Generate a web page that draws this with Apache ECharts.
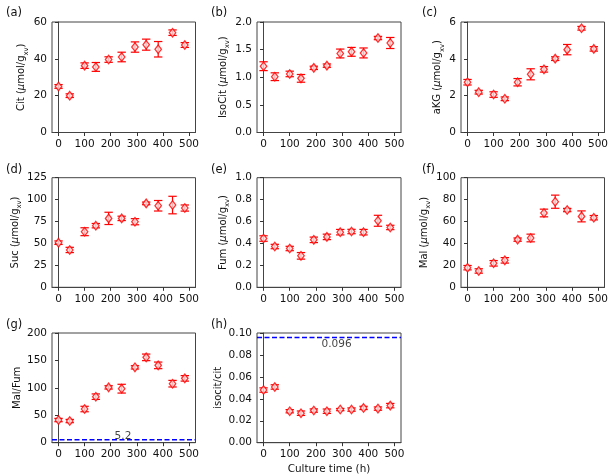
<!DOCTYPE html>
<html><head><meta charset="utf-8">
<script src="https://cdn.jsdelivr.net/npm/echarts@6/dist/echarts.min.js"></script>
<style>html,body{margin:0;padding:0;background:#fff}#c{width:611px;height:476px}</style>
</head><body><div id="c"></div>
<script>
const times = [0, 43, 100, 143, 192, 242, 293, 336, 382, 437, 484];
const xTicks = [0, 100, 200, 300, 400, 500];

const citMean = [25, 20, 36.3, 35.6, 39.6, 41, 46.4, 47.7, 45.2, 54.2, 47.5];
const citErr = [1, 1, 1.5, 2.4, 1.5, 2.6, 2.8, 3, 4.2, 1.5, 1.3];
const isoCitMean = [1.2, 1.01, 1.06, 0.98, 1.17, 1.21, 1.43, 1.46, 1.44, 1.71, 1.62];
const isoCitErr = [0.08, 0.07, 0.05, 0.07, 0.03, 0.03, 0.08, 0.08, 0.09, 0.03, 0.1];
const akgMean = [2.73, 2.19, 2.06, 1.83, 2.73, 3.16, 3.43, 4.01, 4.5, 5.66, 4.54];
const akgErr = [0.15, 0.1, 0.15, 0.1, 0.2, 0.3, 0.15, 0.1, 0.28, 0.1, 0.12];
const sucMean = [50.9, 42.6, 63.4, 70.3, 78.6, 78.6, 74.8, 95.7, 93, 93.8, 90.4];
const sucErr = [2, 3, 4.5, 2.5, 7, 2.5, 3.5, 1.5, 6, 10, 3.5];
const fumMean = [0.445, 0.372, 0.354, 0.287, 0.433, 0.46, 0.503, 0.509, 0.503, 0.607, 0.546];
const fumErr = [0.025, 0.02, 0.02, 0.03, 0.025, 0.025, 0.025, 0.02, 0.025, 0.05, 0.02];
const malMean = [17.9, 14.9, 21.9, 24.6, 43.5, 45, 67.8, 78.1, 70.5, 64.7, 63.5];
const malErr = [2, 2, 2.5, 2.5, 1.5, 3.5, 3.5, 6, 1.5, 5, 2];
const malFumMean = [41.3, 39.5, 61.4, 83.9, 100.9, 98.5, 137.4, 155.6, 141, 107.6, 117.3];
const malFumErr = [3, 3, 5, 5, 3, 8, 3, 6, 6, 6, 5];
const ratioMean = [0.048, 0.0508, 0.0287, 0.0269, 0.0293, 0.0287, 0.0302, 0.0302, 0.0317, 0.0311, 0.0338];
const ratioErr = [0.002, 0.002, 0.0015, 0.002, 0.0015, 0.002, 0.001, 0.0015, 0.0015, 0.0015, 0.002];

const malFumRef = 5.2;
const ratioRef = 0.096;

const unit = ' ({i|μ}mol/g{s|xv})';
const panels = [
  {tag:'(a)', name:'Cit' + unit, mean:citMean, err:citErr, max:60, step:20, dec:0, gap:23},
  {tag:'(b)', name:'IsoCit' + unit, mean:isoCitMean, err:isoCitErr, max:2, step:0.5, dec:1, gap:29},
  {tag:'(c)', name:'aKG' + unit, mean:akgMean, err:akgErr, max:6, step:2, dec:0, gap:16},
  {tag:'(d)', name:'Suc' + unit, mean:sucMean, err:sucErr, max:125, step:25, dec:0, gap:32},
  {tag:'(e)', name:'Fum' + unit, mean:fumMean, err:fumErr, max:1, step:0.2, dec:1, gap:29},
  {tag:'(f)', name:'Mal' + unit, mean:malMean, err:malErr, max:100, step:20, dec:0, gap:29},
  {tag:'(g)', name:'Mal/Fum', mean:malFumMean, err:malFumErr, max:200, step:50, dec:0, gap:30},
  {tag:'(h)', name:'isocit/cit', mean:ratioMean, err:ratioErr, max:0.1, step:0.02, dec:2, gap:34}
];
const lefts = [52, 257, 461];
const widths = [143.5, 144, 143.5];
const tops = [22, 177.7, 333];
const heights = [110.5, 109.6, 109.7];
const tagPos = [[1,2],[206,2],[417,2],[1,159],[206,159],[417,159],[1,314],[206,314]];

const FONT = 'DejaVu Sans';
const TXT = '#111';
const grids = [], xAxes = [], yAxes = [], series = [], titles = [];
panels.forEach((p, i) => {
  const r = Math.floor(i / 3), c = i % 3;
  grids.push({left: lefts[c], top: tops[r], width: widths[c], height: heights[r],
    show: true, borderColor: '#444', borderWidth: 1, backgroundColor: 'transparent'});
  xAxes.push({gridIndex: i, type: 'value', min: -25, max: 525,
    axisLine: {show: true, lineStyle: {color: '#444', width: 1}},
    axisTick: {show: true, customValues: xTicks, length: 3.5, lineStyle: {color: '#333', width: 1}},
    axisLabel: {customValues: xTicks, fontSize: 10.5, color: TXT, fontFamily: FONT, margin: 6},
    splitLine: {show: false},
    name: i === 7 ? 'Culture time (h)' : '', nameLocation: 'middle', nameGap: 22,
    nameTextStyle: {fontSize: 10.4, color: TXT, fontFamily: FONT}
  });
  yAxes.push({gridIndex: i, type: 'value', min: 0, max: p.max, interval: p.step,
    axisLine: {show: true, lineStyle: {color: '#444', width: 1}},
    axisTick: {show: true, length: 3.5, lineStyle: {color: '#333', width: 1}},
    axisLabel: {fontSize: 10.5, color: TXT, fontFamily: FONT, margin: 5,
      formatter: v => v.toFixed(p.dec)},
    splitLine: {show: false},
    name: p.name, nameLocation: 'middle', nameRotate: 90, nameGap: p.gap,
    nameTextStyle: {fontSize: 10, color: TXT, fontFamily: FONT,
      rich: {i: {fontStyle: 'italic', fontSize: 10, color: TXT, fontFamily: FONT},
             s: {fontSize: 6.8, color: TXT, fontFamily: FONT, verticalAlign: 'bottom', padding: [0, 0, -3, 0]}}}
  });
  titles.push({text: p.tag, left: tagPos[i][0], top: tagPos[i][1],
    textStyle: {fontSize: 11.5, fontWeight: 'normal', color: TXT, fontFamily: FONT}});
  const ebData = times.map((t, k) => [t, p.mean[k], p.err[k]]);
  series.push({type: 'custom', xAxisIndex: i, yAxisIndex: i, data: ebData, z: 2,
    renderItem: (params, api) => {
      const x = api.value(0), y = api.value(1), e = api.value(2);
      const lo = api.coord([x, y - e]), hi = api.coord([x, y + e]);
      const cw = 4.2;
      const st = {stroke: '#ff0000', lineWidth: 1.2};
      return {type: 'group', children: [
        {type: 'line', shape: {x1: lo[0], y1: lo[1], x2: hi[0], y2: hi[1]}, style: st},
        {type: 'line', shape: {x1: lo[0]-cw, y1: lo[1], x2: lo[0]+cw, y2: lo[1]}, style: st},
        {type: 'line', shape: {x1: hi[0]-cw, y1: hi[1], x2: hi[0]+cw, y2: hi[1]}, style: st}
      ]};
    }
  });
  series.push({type: 'scatter', xAxisIndex: i, yAxisIndex: i, z: 3,
    data: times.map((t, k) => [t, p.mean[k]]),
    symbol: 'diamond', symbolSize: [6.5, 8.5],
    itemStyle: {color: '#ffe0e0', borderColor: '#ff0000', borderWidth: 1.3},
    emphasis: {disabled: true}
  });
});

// reference lines
[[6, malFumRef, 247, 'top', '5.2'], [7, ratioRef, 279, 'bottom', '0.096']].forEach(([gi, v, lx, pos, txt]) => {
  series.push({type: 'line', xAxisIndex: gi, yAxisIndex: gi, data: [[-25, v], [525, v]],
    showSymbol: false, symbol: 'none', z: 4,
    lineStyle: {color: '#0000ff', width: 1.5, type: [5, 2.5]}});
  series.push({type: 'scatter', xAxisIndex: gi, yAxisIndex: gi, data: [[lx, v]], symbolSize: 0, z: 5,
    label: {show: true, position: pos, distance: pos === 'top' ? -2 : 1, formatter: txt, fontSize: 10.5, color: TXT, fontFamily: FONT}});
});

const chart = echarts.init(document.getElementById('c'), null, {renderer: 'canvas'});
chart.setOption({animation: false, backgroundColor: '#fff', title: titles,
  grid: grids, xAxis: xAxes, yAxis: yAxes, series: series});
</script></body></html>
